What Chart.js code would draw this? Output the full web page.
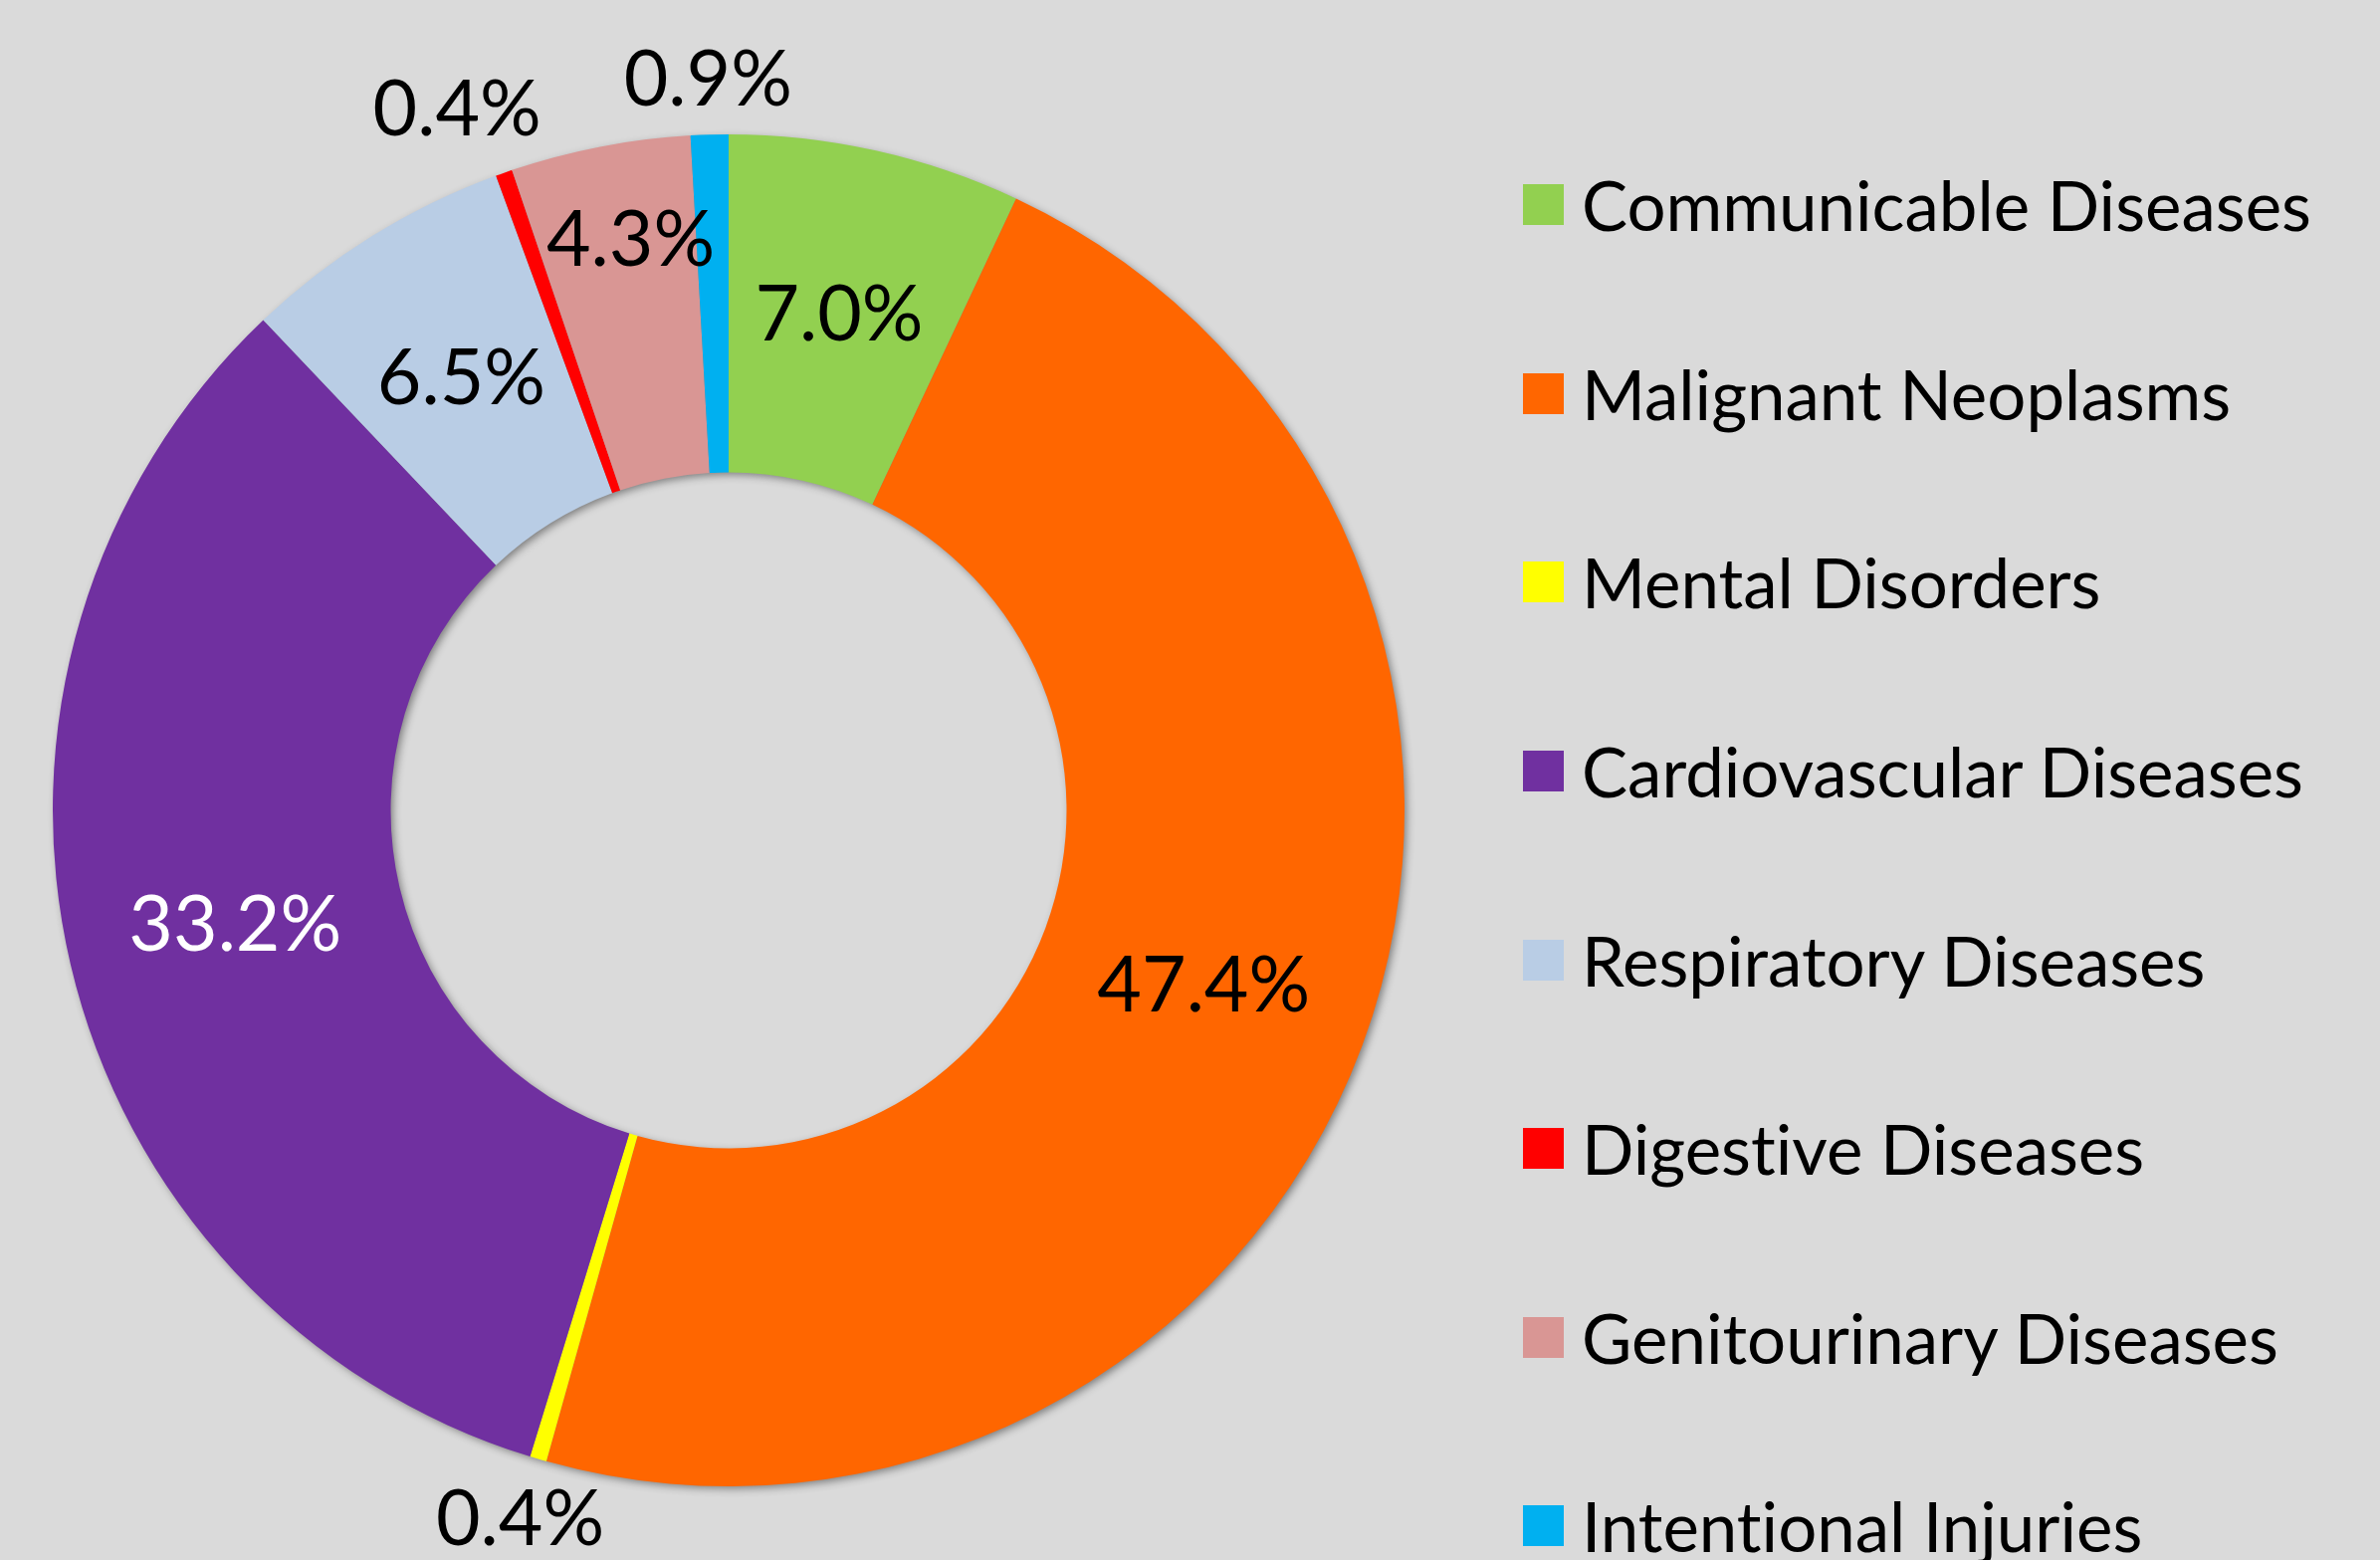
<!DOCTYPE html>
<html>
<head>
<meta charset="utf-8">
<script src="https://cdn.jsdelivr.net/npm/chart.js@4.4.1/dist/chart.umd.min.js"></script>
<style>
  html, body { margin: 0; padding: 0; background: #dadada; overflow: hidden; }
  #wrap { position: relative; width: 2391px; height: 1567px; }
  #chart { position: absolute; left: 0; top: 0; }
  #legend { position: absolute; left: 1530px; top: 111px; font-family: Lato, sans-serif; font-size: 69px; color: #000; font-variant-ligatures: none; }
  .item { display: flex; align-items: center; height: 189.6px; }
  .box { width: 41px; height: 41px; margin-right: 18px; flex: none; }
</style>
</head>
<body>
<div id="wrap">
  <canvas id="chart" width="2391" height="1567"></canvas>
  <div id="legend"></div>
</div>
<script>
const categories = [
  'Communicable Diseases',
  'Malignant Neoplasms',
  'Mental Disorders',
  'Cardiovascular Diseases',
  'Respiratory Diseases',
  'Digestive Diseases',
  'Genitourinary Diseases',
  'Intentional Injuries'
];
const shares = [7.0, 47.4, 0.4, 33.2, 6.5, 0.4, 4.3, 0.9];
const colors = ['#92D050', '#FF6600', '#FFFF00', '#7030A0', '#B9CDE5', '#FF0000', '#D99694', '#00B0F0'];
const labelColors = ['#000', '#000', '#000', '#fff', '#000', '#000', '#000', '#000'];

// legend
const legend = document.getElementById('legend');
categories.forEach((name, i) => {
  legend.innerHTML += `<div class="item"><div class="box" style="background:${colors[i]}"></div><span>${name}</span></div>`;
});

// soft shadow under the ring
const ringShadow = {
  id: 'ringShadow',
  beforeDatasetsDraw(chart) {
    const arc = chart.getDatasetMeta(0).data[0];
    if (!arc) return;
    const { x, y, outerRadius, innerRadius } = arc.getProps(['x', 'y', 'outerRadius', 'innerRadius'], true);
    const ctx = chart.ctx;
    ctx.save();
    ctx.shadowColor = 'rgba(0,0,0,0.45)';
    ctx.shadowBlur = 8;
    ctx.shadowOffsetX = 3;
    ctx.shadowOffsetY = 3;
    ctx.fillStyle = '#888';
    ctx.beginPath();
    ctx.arc(x, y, outerRadius - 1, 0, Math.PI * 2);
    ctx.arc(x, y, innerRadius + 1, 0, Math.PI * 2, true);
    ctx.fill();
    ctx.restore();
  }
};

// percentage labels: distance from centre (as share of outer radius) and small angle nudges
const labelRadius = [0.75, 0.75, 1.095, 0.75, 0.75, 1.11, 0.855, 1.08];
const labelNudge = [0, 0, 0, 0, 0, -1.8, 1.2, 0];

const sliceLabels = {
  id: 'sliceLabels',
  afterDatasetsDraw(chart) {
    const ctx = chart.ctx;
    const meta = chart.getDatasetMeta(0);
    ctx.save();
    ctx.font = '77px Lato, sans-serif';
    ctx.textAlign = 'center';
    ctx.textBaseline = 'middle';
    meta.data.forEach((arc, i) => {
      const { x, y, startAngle, endAngle, outerRadius } =
        arc.getProps(['x', 'y', 'startAngle', 'endAngle', 'outerRadius'], true);
      const mid = (startAngle + endAngle) / 2 + labelNudge[i] * Math.PI / 180;
      const r = outerRadius * labelRadius[i];
      ctx.fillStyle = labelColors[i];
      ctx.fillText(shares[i].toFixed(1) + '%', x + Math.cos(mid) * r, y + Math.sin(mid) * r);
    });
    ctx.restore();
  }
};

new Chart(document.getElementById('chart'), {
  type: 'doughnut',
  data: {
    labels: categories,
    datasets: [{
      data: shares,
      backgroundColor: colors,
      borderWidth: 0
    }]
  },
  options: {
    responsive: false,
    animation: false,
    cutout: '50%',
    layout: { padding: { left: 53, top: 135, right: 980, bottom: 74 } },
    plugins: {
      legend: { display: false },
      tooltip: { enabled: false }
    }
  },
  plugins: [ringShadow, sliceLabels]
});
</script>
</body>
</html>
